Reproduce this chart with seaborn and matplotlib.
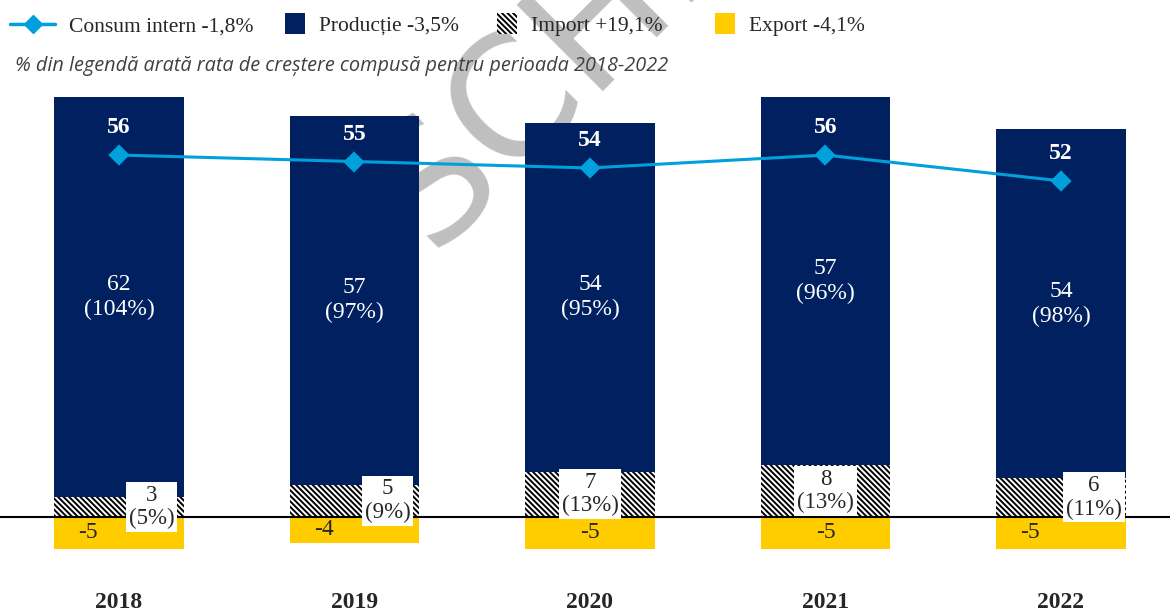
import numpy as np
import matplotlib
matplotlib.use("Agg")
import matplotlib.pyplot as plt
import seaborn as sns
from matplotlib.lines import Line2D
from matplotlib.patches import Patch, Rectangle
from matplotlib.legend_handler import HandlerPatch

# ---- data ----
years = ["2018", "2019", "2020", "2021", "2022"]
productie = [62, 57, 54, 57, 54]
productie_pct = [104, 97, 95, 96, 98]
import_vals = [3, 5, 7, 8, 6]
import_pct = [5, 9, 13, 13, 11]
export_vals = [-5, -4, -5, -5, -5]
consum = [56, 55, 54, 56, 52]
legend_labels = ["Consum intern -1,8%", "Producție -3,5%", "Import +19,1%", "Export -4,1%"]
subtitle = "% din legendă arată rata de creștere compusă pentru perioada 2018-2022"

# ---- style ----
NAVY = "#002060"
GOLD = "#FFCC00"
BLUE = "#00A0DC"
HATCH = "\\" * 6

sns.set_style("white")
plt.rcParams["font.family"] = ["Liberation Serif", "DejaVu Serif"]
plt.rcParams["hatch.linewidth"] = 1.4

fig = plt.figure(figsize=(11.7, 6.12), dpi=100)
fig.patch.set_facecolor("white")
ax = fig.add_axes([0, 0.0605, 1, 0.797])
ax.patch.set_alpha(0)

total = np.array(productie) + np.array(import_vals)

sns.barplot(x=years, y=total, color=NAVY, saturation=1, width=0.55,
            errorbar=None, linewidth=0, ax=ax, zorder=2)
sns.barplot(x=years, y=import_vals, color="white", saturation=1, width=0.55,
            errorbar=None, edgecolor="black", hatch=HATCH, linewidth=0, ax=ax, zorder=3)
sns.barplot(x=years, y=export_vals, color=GOLD, saturation=1, width=0.55,
            errorbar=None, linewidth=0, ax=ax, zorder=2)
sns.pointplot(x=years, y=consum, color=BLUE, marker="D", markersize=9,
              linewidth=2.2, errorbar=None, ax=ax, zorder=5)

ax.axhline(0, color="black", lw=1.5, zorder=4)

ax.set_xlim(-0.505, 4.463)
ax.set_ylim(-9, 66.5)
ax.set_yticks([])
ax.set_ylabel("")
ax.set_xlabel("")
for s in ax.spines.values():
    s.set_visible(False)
ax.tick_params(axis="x", length=0, pad=12)
for lab in ax.get_xticklabels():
    lab.set_fontweight("bold")
    lab.set_fontsize(17)

# ---- annotations ----
imp_off = [0.14, 0.14, 0, 0, 0.14]
exp_off = [-0.13, -0.13, 0, 0, -0.13]
for i in range(len(years)):
    ax.text(i, import_vals[i] + productie[i] / 2, f"{productie[i]}\n({productie_pct[i]}%)",
            ha="center", va="center", color="white", fontsize=17, linespacing=1.25, zorder=6)
    ax.text(i + imp_off[i], import_vals[i] / 2, f"{import_vals[i]}\n({import_pct[i]}%)",
            ha="center", va="center", color="#262626", fontsize=16.5, linespacing=1.15, zorder=6,
            bbox=dict(boxstyle="square,pad=0.12", fc="white", ec="none"))
    ax.text(i + exp_off[i], export_vals[i] / 2, f"{export_vals[i]}",
            ha="center", va="center", color="#262626", fontsize=17, zorder=6)
    ax.annotate(f"{consum[i]}", (i, consum[i]), xytext=(0, 19.5), textcoords="offset points",
                ha="center", va="center", color="white", fontsize=17, fontweight="bold", zorder=6)

# ---- legend (one entry per legend box for exact placement) ----
def square_patch(legend, orig_handle, xdescent, ydescent, width, height, fontsize):
    s = height * 1.35
    return Rectangle((width - s - xdescent, -ydescent + (height - s) / 2), s, s)

handles = [
    Line2D([0], [0], color=BLUE, marker="D", lw=2.5, markersize=9),
    Patch(facecolor=NAVY, linewidth=0),
    Patch(facecolor="white", edgecolor="black", hatch=HATCH, linewidth=0),
    Patch(facecolor=GOLD, linewidth=0),
]
hm = {h: HandlerPatch(patch_func=square_patch) for h in handles[1:]}
leg_x = [10, 260, 472, 690]
for h, lab, x0 in zip(handles, legend_labels, leg_x):
    fig.legend([h], [lab], handler_map=hm, loc="upper left",
               bbox_to_anchor=(x0 / 1170, 1 - 16 / 612), frameon=False,
               fontsize=15.5, handlelength=2.1, handletextpad=0.65,
               borderpad=0, borderaxespad=0)

fig.text(15 / 1170, 1 - 66 / 612, subtitle, ha="left", va="center", style="italic",
         color="#404040", fontsize=14.3, family=["Open Sans", "DejaVu Sans"])

# watermark
fig.text(432 / 1170, 1 - 252 / 612, "SCHIȚĂ", rotation=45, rotation_mode="anchor",
         ha="left", va="baseline", fontsize=120, color="#BFBFBF",
         family=["DejaVu Sans"], zorder=-1)

fig.savefig("out.png", dpi=100, facecolor="white")
